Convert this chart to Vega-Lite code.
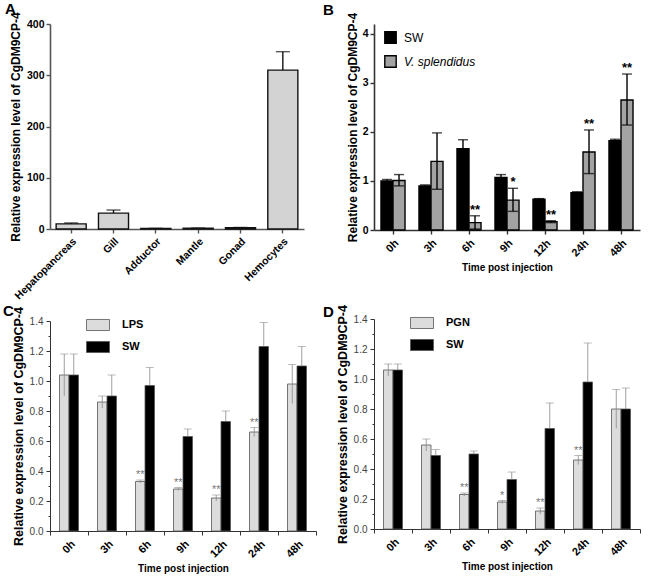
{
  "$schema": "https://vega.github.io/schema/vega-lite/v6.json",
  "padding": {"left": 3, "top": 1, "right": 0, "bottom": 0},
  "config": {
    "font": "Liberation Sans",
    "view": {"stroke": null},
    "axis": {"grid": false, "labelFont": "Liberation Sans", "titleFont": "Liberation Sans"},
    "title": {"font": "Liberation Sans", "fontSize": 15, "fontWeight": "bold", "anchor": "start", "frame": "group", "color": "#000"}
  },
  "datasets": {
    "tissue": [
      {"tissue": "Hepatopancreas", "mean": 10, "hi": 11.7},
      {"tissue": "Gill", "mean": 31, "hi": 37},
      {"tissue": "Adductor", "mean": 1, "hi": 1.3},
      {"tissue": "Mantle", "mean": 1.5, "hi": 1.8},
      {"tissue": "Gonad", "mean": 2.5, "hi": 3},
      {"tissue": "Hemocytes", "mean": 310, "hi": 346}
    ],
    "vib": [
      {"time": "0h", "series": "SW", "mean": 1.0, "lo": 0.97, "hi": 1.03, "sig": null},
      {"time": "0h", "series": "V. splendidus", "mean": 1.01, "lo": 0.9, "hi": 1.13, "sig": null},
      {"time": "3h", "series": "SW", "mean": 0.9, "lo": 0.88, "hi": 0.92, "sig": null},
      {"time": "3h", "series": "V. splendidus", "mean": 1.4, "lo": 0.83, "hi": 1.98, "sig": null},
      {"time": "6h", "series": "SW", "mean": 1.66, "lo": 1.48, "hi": 1.84, "sig": null},
      {"time": "6h", "series": "V. splendidus", "mean": 0.15, "lo": 0.02, "hi": 0.29, "sig": "**"},
      {"time": "9h", "series": "SW", "mean": 1.07, "lo": 1.01, "hi": 1.13, "sig": null},
      {"time": "9h", "series": "V. splendidus", "mean": 0.61, "lo": 0.38, "hi": 0.85, "sig": "*"},
      {"time": "12h", "series": "SW", "mean": 0.63, "lo": 0.62, "hi": 0.64, "sig": null},
      {"time": "12h", "series": "V. splendidus", "mean": 0.17, "lo": 0.15, "hi": 0.19, "sig": "**"},
      {"time": "24h", "series": "SW", "mean": 0.76, "lo": 0.74, "hi": 0.78, "sig": null},
      {"time": "24h", "series": "V. splendidus", "mean": 1.59, "lo": 1.15, "hi": 2.04, "sig": "**"},
      {"time": "48h", "series": "SW", "mean": 1.82, "lo": 1.79, "hi": 1.85, "sig": null},
      {"time": "48h", "series": "V. splendidus", "mean": 2.65, "lo": 2.14, "hi": 3.18, "sig": "**"}
    ],
    "lps": [
      {"time": "0h", "series": "LPS", "mean": 1.04, "lo": 0.9, "hi": 1.18, "sig": null},
      {"time": "0h", "series": "SW", "mean": 1.04, "lo": 1.04, "hi": 1.18, "sig": null},
      {"time": "3h", "series": "LPS", "mean": 0.86, "lo": 0.82, "hi": 0.9, "sig": null},
      {"time": "3h", "series": "SW", "mean": 0.9, "lo": 0.9, "hi": 1.04, "sig": null},
      {"time": "6h", "series": "LPS", "mean": 0.33, "lo": 0.32, "hi": 0.34, "sig": "**"},
      {"time": "6h", "series": "SW", "mean": 0.97, "lo": 0.97, "hi": 1.09, "sig": null},
      {"time": "9h", "series": "LPS", "mean": 0.28, "lo": 0.27, "hi": 0.29, "sig": "**"},
      {"time": "9h", "series": "SW", "mean": 0.63, "lo": 0.63, "hi": 0.68, "sig": null},
      {"time": "12h", "series": "LPS", "mean": 0.22, "lo": 0.2, "hi": 0.24, "sig": "**"},
      {"time": "12h", "series": "SW", "mean": 0.73, "lo": 0.73, "hi": 0.8, "sig": null},
      {"time": "24h", "series": "LPS", "mean": 0.66, "lo": 0.63, "hi": 0.69, "sig": "**"},
      {"time": "24h", "series": "SW", "mean": 1.23, "lo": 1.23, "hi": 1.39, "sig": null},
      {"time": "48h", "series": "LPS", "mean": 0.98, "lo": 0.85, "hi": 1.11, "sig": null},
      {"time": "48h", "series": "SW", "mean": 1.1, "lo": 1.1, "hi": 1.23, "sig": null}
    ],
    "pgn": [
      {"time": "0h", "series": "PGN", "mean": 1.06, "lo": 1.02, "hi": 1.1, "sig": null},
      {"time": "0h", "series": "SW", "mean": 1.06, "lo": 1.06, "hi": 1.1, "sig": null},
      {"time": "3h", "series": "PGN", "mean": 0.56, "lo": 0.52, "hi": 0.6, "sig": null},
      {"time": "3h", "series": "SW", "mean": 0.49, "lo": 0.49, "hi": 0.53, "sig": null},
      {"time": "6h", "series": "PGN", "mean": 0.23, "lo": 0.22, "hi": 0.24, "sig": "**"},
      {"time": "6h", "series": "SW", "mean": 0.5, "lo": 0.5, "hi": 0.52, "sig": null},
      {"time": "9h", "series": "PGN", "mean": 0.18, "lo": 0.17, "hi": 0.19, "sig": "*"},
      {"time": "9h", "series": "SW", "mean": 0.33, "lo": 0.33, "hi": 0.38, "sig": null},
      {"time": "12h", "series": "PGN", "mean": 0.12, "lo": 0.1, "hi": 0.14, "sig": "**"},
      {"time": "12h", "series": "SW", "mean": 0.67, "lo": 0.67, "hi": 0.84, "sig": null},
      {"time": "24h", "series": "PGN", "mean": 0.46, "lo": 0.43, "hi": 0.49, "sig": "**"},
      {"time": "24h", "series": "SW", "mean": 0.98, "lo": 0.98, "hi": 1.24, "sig": null},
      {"time": "48h", "series": "PGN", "mean": 0.8, "lo": 0.67, "hi": 0.93, "sig": null},
      {"time": "48h", "series": "SW", "mean": 0.8, "lo": 0.8, "hi": 0.94, "sig": null}
    ]
  },
  "concat": [
    {
      "vconcat": [
        {
          "title": {"text": "A", "dx": -45, "offset": -5},
          "width": 254, "height": 205,
          "data": {"name": "tissue"},
          "encoding": {
            "x": {"field": "tissue", "type": "nominal", "sort": null, "title": null,
              "scale": {"paddingInner": 0.29, "paddingOuter": 0.145},
              "axis": {"labelAngle": -45, "labelFontSize": 10.5, "labelFontWeight": "bold", "labelColor": "#000", "domainColor": "#555", "domainWidth": 1.6, "tickColor": "#555", "tickWidth": 1.4, "tickSize": 4, "labelPadding": 3}}
          },
          "layer": [
            {
              "mark": {"type": "bar", "fill": "#d3d3d3", "stroke": "#111", "strokeWidth": 1.4},
              "encoding": {
                "y": {"field": "mean", "type": "quantitative", "scale": {"domain": [0, 400], "nice": false},
                  "title": "Relative expression level of CgDM9CP-4",
                  "axis": {"values": [0, 100, 200, 300, 400], "labelFontSize": 10.5, "labelFontWeight": "bold", "labelColor": "#000", "titleFontSize": 12, "titleFontWeight": "bold", "titleColor": "#000", "titlePadding": 4, "domainColor": "#555", "domainWidth": 1.6, "tickColor": "#555", "tickWidth": 1.4, "tickSize": 4, "labelPadding": 2}}
              }
            },
            {
              "mark": {"type": "rule", "color": "#111", "strokeWidth": 1.4},
              "encoding": {"y": {"field": "mean", "type": "quantitative"}, "y2": {"field": "hi"}}
            },
            {
              "mark": {"type": "tick", "color": "#111", "size": 14, "thickness": 1.4},
              "encoding": {"y": {"field": "hi", "type": "quantitative"}}
            }
          ]
        },
        {
          "title": {"text": "C", "dx": -47, "offset": -12},
          "width": 266, "height": 210,
          "data": {"name": "lps"},
          "encoding": {
            "x": {"field": "time", "type": "nominal", "sort": null, "title": "Time post injection",
              "scale": {"paddingInner": 0, "paddingOuter": 0},
              "axis": {"labelAngle": -45, "labelFontSize": 11, "labelFontWeight": "bold", "labelColor": "#000", "titleFontSize": 10, "titleFontWeight": "bold", "titleColor": "#000", "titlePadding": 4, "domainColor": "#333", "domainWidth": 1, "tickColor": "#333", "tickWidth": 1, "tickSize": 4, "tickBand": "extent", "labelPadding": 3}},
            "xOffset": {"field": "series", "type": "nominal", "sort": ["LPS", "SW"], "scale": {"paddingInner": 0, "paddingOuter": 1}}
          },
          "layer": [
            {
              "mark": {"type": "bar", "stroke": "#555", "strokeWidth": 0.8},
              "encoding": {
                "y": {"field": "mean", "type": "quantitative", "scale": {"domain": [0, 1.4], "nice": false},
                  "title": "Relative expression level of CgDM9CP-4",
                  "axis": {"values": [0, 0.2, 0.4, 0.6, 0.8, 1.0, 1.2, 1.4], "labelOverlap": false, "format": ".1f",
                    "labelFontSize": 10, "labelColor": "#444", "titleFontSize": 12.5, "titleFontWeight": "bold", "titleColor": "#000", "titlePadding": 4, "domainColor": "#333", "domainWidth": 1, "tickColor": "#333", "tickWidth": 1, "tickSize": 4, "labelPadding": 3}},
                "fill": {"field": "series", "type": "nominal", "sort": ["LPS", "SW"],
                  "scale": {"domain": ["LPS", "SW"], "range": ["#dcdcdc", "#000000"]},
                  "legend": {"title": null, "orient": "none", "legendX": 36, "legendY": -8, "symbolType": "M-1,-0.48H1V0.48H-1Z", "symbolSize": 529, "symbolStrokeColor": "#555", "symbolStrokeWidth": 0.8, "labelFontSize": 11, "labelFontWeight": "bold", "labelColor": "#000", "rowPadding": 2, "labelOffset": 12}
                }
              }
            },
            {
              "mark": {"type": "rule", "color": "#888", "strokeWidth": 0.8},
              "encoding": {"y": {"field": "lo", "type": "quantitative",
                "axis": {"orient": "left", "values": [0.1, 0.3, 0.5, 0.7, 0.9, 1.1, 1.3], "labels": false, "domain": false, "title": null, "tickSize": 2, "tickColor": "#333", "tickWidth": 1}}, "y2": {"field": "hi"}}
            },
            {
              "mark": {"type": "tick", "color": "#888", "size": 8, "thickness": 0.8},
              "encoding": {"y": {"field": "hi", "type": "quantitative", "axis": null}}
            },
            {
              "transform": [{"filter": "datum.sig != null"}],
              "mark": {"type": "text", "fontSize": 11, "color": "#777", "baseline": "alphabetic", "dy": -2},
              "encoding": {"y": {"field": "hi", "type": "quantitative", "axis": null}, "text": {"field": "sig"}}
            }
          ],
          "resolve": {"axis": {"y": "independent"}}
        }
      ],
      "spacing": 1,
      "resolve": {"scale": {"x": "independent", "y": "independent", "fill": "independent", "xOffset": "independent"}}
    },
    {
      "vconcat": [
        {
          "title": {"text": "B", "dx": -51, "offset": -6},
          "width": 266, "height": 206,
          "data": {"name": "vib"},
          "encoding": {
            "x": {"field": "time", "type": "nominal", "sort": null, "title": "Time post injection",
              "scale": {"paddingInner": 0, "paddingOuter": 0},
              "axis": {"labelAngle": -45, "labelFontSize": 11, "labelFontWeight": "bold", "labelColor": "#000", "titleFontSize": 10, "titleFontWeight": "bold", "titleColor": "#000", "titlePadding": 4, "domainColor": "#333", "domainWidth": 1.6, "tickColor": "#333", "tickWidth": 1.4, "tickSize": 4, "labelPadding": 3}},
            "xOffset": {"field": "series", "type": "nominal", "sort": ["SW", "V. splendidus"], "scale": {"paddingInner": 0, "paddingOuter": 0.58}}
          },
          "layer": [
            {
              "mark": {"type": "bar", "stroke": "#000", "strokeWidth": 1.4},
              "encoding": {
                "y": {"field": "mean", "type": "quantitative", "scale": {"domain": [0, 4.2], "nice": false},
                  "title": "Relative expression level of CgDM9CP-4",
                  "axis": {"values": [0, 1, 2, 3, 4], "format": "d", "labelFontSize": 10.5, "labelFontWeight": "bold", "labelColor": "#000", "titleFontSize": 12, "titleFontWeight": "bold", "titleColor": "#000", "titlePadding": 3, "domainColor": "#333", "domainWidth": 1.6, "tickColor": "#333", "tickWidth": 1.4, "tickSize": 4, "labelPadding": 2}},
                "fill": {"field": "series", "type": "nominal", "sort": ["SW", "V. splendidus"],
                  "scale": {"domain": ["SW", "V. splendidus"], "range": ["#000000", "#a3a3a3"]},
                  "legend": {"title": null, "orient": "none", "legendX": 10, "legendY": 7, "symbolType": "square", "symbolSize": 130, "symbolStrokeColor": "#000", "symbolStrokeWidth": 1.4, "labelFontSize": 12, "labelColor": "#000", "rowPadding": 5, "labelOffset": 7,
                    "encode": {"labels": {"update": {"fontStyle": {"signal": "datum.label === 'V. splendidus' ? 'italic' : 'normal'"}}}}}
                }
              }
            },
            {
              "mark": {"type": "rule", "color": "#000", "strokeWidth": 1.4},
              "encoding": {"y": {"field": "lo", "type": "quantitative"}, "y2": {"field": "hi"}}
            },
            {
              "mark": {"type": "tick", "color": "#000", "size": 10, "thickness": 1.4},
              "encoding": {"y": {"field": "hi", "type": "quantitative"}}
            },
            {
              "mark": {"type": "tick", "color": "#000", "size": 10, "thickness": 1.4},
              "encoding": {"y": {"field": "lo", "type": "quantitative"}}
            },
            {
              "transform": [{"filter": "datum.sig != null"}],
              "mark": {"type": "text", "fontSize": 13, "fontWeight": "bold", "color": "#000", "baseline": "alphabetic", "dy": -2},
              "encoding": {"y": {"field": "hi", "type": "quantitative"}, "text": {"field": "sig"}}
            }
          ]
        },
        {
          "title": {"text": "D", "dx": -51, "offset": -15},
          "width": 266, "height": 210,
          "data": {"name": "pgn"},
          "encoding": {
            "x": {"field": "time", "type": "nominal", "sort": null, "title": "Time post injection",
              "scale": {"paddingInner": 0, "paddingOuter": 0},
              "axis": {"labelAngle": -45, "labelFontSize": 11, "labelFontWeight": "bold", "labelColor": "#000", "titleFontSize": 10, "titleFontWeight": "bold", "titleColor": "#000", "titlePadding": 4, "domainColor": "#333", "domainWidth": 1, "tickColor": "#333", "tickWidth": 1, "tickSize": 4, "tickBand": "extent", "labelPadding": 3}},
            "xOffset": {"field": "series", "type": "nominal", "sort": ["PGN", "SW"], "scale": {"paddingInner": 0, "paddingOuter": 1}}
          },
          "layer": [
            {
              "mark": {"type": "bar", "stroke": "#555", "strokeWidth": 0.8},
              "encoding": {
                "y": {"field": "mean", "type": "quantitative", "scale": {"domain": [0, 1.4], "nice": false},
                  "title": "Relative expression level of CgDM9CP-4",
                  "axis": {"values": [0, 0.2, 0.4, 0.6, 0.8, 1.0, 1.2, 1.4], "labelOverlap": false, "format": ".1f",
                    "labelFontSize": 10, "labelColor": "#444", "titleFontSize": 12.5, "titleFontWeight": "bold", "titleColor": "#000", "titlePadding": 4, "domainColor": "#333", "domainWidth": 1, "tickColor": "#333", "tickWidth": 1, "tickSize": 4, "labelPadding": 3}},
                "fill": {"field": "series", "type": "nominal", "sort": ["PGN", "SW"],
                  "scale": {"domain": ["PGN", "SW"], "range": ["#dcdcdc", "#000000"]},
                  "legend": {"title": null, "orient": "none", "legendX": 36, "legendY": -8, "symbolType": "M-1,-0.48H1V0.48H-1Z", "symbolSize": 529, "symbolStrokeColor": "#555", "symbolStrokeWidth": 0.8, "labelFontSize": 11, "labelFontWeight": "bold", "labelColor": "#000", "rowPadding": 2, "labelOffset": 12}
                }
              }
            },
            {
              "mark": {"type": "rule", "color": "#888", "strokeWidth": 0.8},
              "encoding": {"y": {"field": "lo", "type": "quantitative",
                "axis": {"orient": "left", "values": [0.1, 0.3, 0.5, 0.7, 0.9, 1.1, 1.3], "labels": false, "domain": false, "title": null, "tickSize": 2, "tickColor": "#333", "tickWidth": 1}}, "y2": {"field": "hi"}}
            },
            {
              "mark": {"type": "tick", "color": "#888", "size": 8, "thickness": 0.8},
              "encoding": {"y": {"field": "hi", "type": "quantitative", "axis": null}}
            },
            {
              "transform": [{"filter": "datum.sig != null"}],
              "mark": {"type": "text", "fontSize": 11, "color": "#777", "baseline": "alphabetic", "dy": -2},
              "encoding": {"y": {"field": "hi", "type": "quantitative", "axis": null}, "text": {"field": "sig"}}
            }
          ],
          "resolve": {"axis": {"y": "independent"}}
        }
      ],
      "spacing": 31,
      "resolve": {"scale": {"x": "independent", "y": "independent", "fill": "independent", "xOffset": "independent"}}
    }
  ],
  "columns": 2,
  "align": "none",
  "spacing": 6,
  "resolve": {"scale": {"x": "independent", "y": "independent", "fill": "independent", "xOffset": "independent"}}
}
